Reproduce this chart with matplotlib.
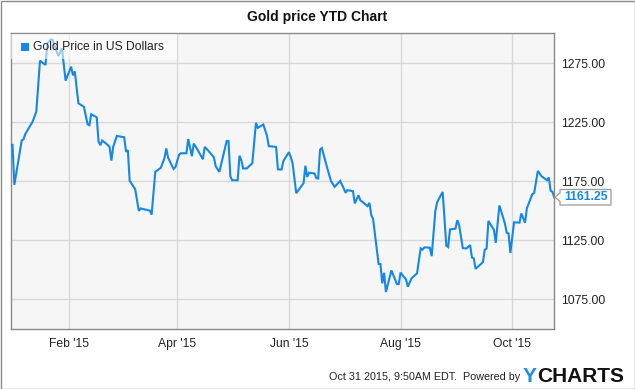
import matplotlib
matplotlib.use("Agg")
import matplotlib.pyplot as plt
from matplotlib.patches import Rectangle, Polygon
import pandas as pd

plt.rcParams['font.family'] = ['Liberation Sans', 'DejaVu Sans']

title = "Gold price YTD Chart"
series_name = "Gold Price in US Dollars"
footer = "Oct 31 2015, 9:50AM EDT.  Powered by"
last_label = "1161.25"

# days after 2015-01-01
day_offsets = [-1, 0, 1, 5, 6, 7, 11, 13, 15, 18, 19, 21, 22, 25, 27, 29, 32, 33, 34, 36,
               39, 41, 42, 43, 46, 47, 48, 49, 52, 53, 54, 55, 57, 61, 62, 63, 64, 67, 69, 70,
               75, 76, 78, 81, 83, 84, 85, 88, 89, 91, 92, 95, 96, 98, 99, 101, 104, 105, 107, 110,
               111, 113, 117, 118, 119, 120, 123, 124, 125, 126, 128, 131, 133, 134, 137, 139, 140, 144, 145, 147,
               148, 151, 152, 153, 155, 159, 160, 161, 162, 165, 166, 167, 168, 169, 172, 174, 176, 179, 181, 182,
               183, 186, 187, 189, 190, 194, 195, 196, 197, 200, 201, 202, 203, 204, 207, 210, 211, 212, 215, 216,
               218, 221, 223, 224, 225, 228, 229, 231, 232, 235, 237, 238, 239, 242, 243, 244, 246, 248, 250, 251,
               252, 253, 257, 258, 259, 260, 263, 264, 266, 269, 270, 271, 272, 274, 277, 278, 280, 281, 284, 285,
               287, 289, 292, 293, 294, 295, 296]
prices = [1205.8, 1205.8, 1171.9, 1209.5, 1210.6, 1215.1, 1225.6, 1234.1, 1277.3, 1273.6,
          1292.0, 1295.3, 1294.7, 1281.2, 1287.7, 1260.3, 1272.2, 1264.8, 1268.2, 1241.1,
          1238.1, 1223.3, 1222.5, 1231.8, 1229.2, 1208.5, 1205.5, 1209.5, 1205.8, 1204.1,
          1192.4, 1204.2, 1213.4, 1212.3, 1200.0, 1201.3, 1175.4, 1168.2, 1149.8, 1151.9,
          1150.0, 1146.6, 1183.0, 1186.3, 1194.5, 1202.8, 1194.9, 1185.4, 1186.9, 1197.6,
          1198.7, 1198.7, 1210.8, 1196.2, 1206.9, 1201.9, 1193.6, 1204.1, 1200.8, 1195.3,
          1187.7, 1182.9, 1209.1, 1209.1, 1179.2, 1175.8, 1175.8, 1196.6, 1192.8, 1185.8,
          1185.8, 1190.3, 1224.6, 1220.3, 1223.1, 1213.7, 1204.7, 1204.1, 1185.0, 1184.9,
          1192.2, 1199.6, 1195.6, 1190.3, 1164.8, 1173.3, 1188.1, 1178.6, 1182.2, 1181.5,
          1177.5, 1177.3, 1201.7, 1203.1, 1185.8, 1175.0, 1170.2, 1175.2, 1168.8, 1165.1,
          1167.4, 1166.5, 1156.1, 1163.1, 1158.9, 1153.8, 1156.6, 1146.2, 1142.8, 1104.7,
          1104.7, 1088.3, 1097.3, 1080.9, 1099.3, 1087.7, 1087.7, 1097.4, 1091.5, 1085.4,
          1092.5, 1096.8, 1118.0, 1116.9, 1118.8, 1118.6, 1111.4, 1149.6, 1157.2, 1165.9,
          1120.3, 1119.1, 1134.1, 1134.7, 1141.9, 1137.7, 1118.2, 1117.9, 1120.8, 1110.3,
          1109.5, 1100.6, 1106.3, 1116.8, 1117.8, 1141.3, 1133.7, 1122.7, 1154.4, 1139.1,
          1131.2, 1130.7, 1114.0, 1140.1, 1139.8, 1147.6, 1139.7, 1151.9, 1164.0, 1165.0,
          1183.7, 1179.2, 1175.8, 1178.1, 1166.8, 1166.0, 1161.25]

x_tick_dates = ["2015-02-01", "2015-04-01", "2015-06-01", "2015-08-01", "2015-10-01"]
x_tick_labels = ["Feb '15", "Apr '15", "Jun '15", "Aug '15", "Oct '15"]
y_ticks = [1075, 1125, 1175, 1225, 1275]
y_tick_labels = ["1075.00", "1125.00", "1175.00", "1225.00", "1275.00"]

start = pd.Timestamp("2015-01-01")
dates = start + pd.to_timedelta(day_offsets, unit="D")

W, H = 635, 389
fig = plt.figure(figsize=(W / 100, H / 100), dpi=100)
fig.patch.set_facecolor("white")

def fx(px):
    return px / W

def fy(py):
    return 1 - py / H

ax_l, ax_r, ax_t, ax_b = 10.7, 554.3, 33.3, 329.3
ax = fig.add_axes([fx(ax_l), fy(ax_b), fx(ax_r - ax_l), (ax_b - ax_t) / H])
ax.set_facecolor("#f6f6f6")

line_color = "#1587e6"
ax.plot(dates, prices, color=line_color, lw=1.5, zorder=3, solid_joinstyle="miter")

ax.set_xlim(start + pd.Timedelta(days=-1), start + pd.Timedelta(days=296))
ax.set_ylim(1049.3, 1300.5)

ax.set_xticks(pd.to_datetime(x_tick_dates))
ax.set_xticklabels(x_tick_labels)
ax.set_yticks(y_ticks)
ax.set_yticklabels(y_tick_labels)
ax.yaxis.tick_right()
ax.tick_params(axis="both", length=0, labelsize=8.7, colors="#222222")
ax.tick_params(axis="x", pad=6)
ax.tick_params(axis="y", pad=5)
ax.grid(True, color="#d8d8d8", lw=1.0, zorder=0)
ax.set_axisbelow(True)
for s in ax.spines.values():
    s.set_color("#8a8a8a")
    s.set_linewidth(1.0)

# legend box
leg_box = Rectangle((fx(ax_l + 0.5), fy(59)), fx(176 - ax_l), (59 - 33.8) / H,
                    transform=fig.transFigure, facecolor="white", alpha=0.55,
                    edgecolor="none", zorder=5)
fig.patches.append(leg_box)
fig.patches.append(Rectangle((fx(21), fy(51)), fx(8), 8 / H, transform=fig.transFigure,
                             facecolor=line_color, edgecolor="none", zorder=6))
fig.text(fx(33), fy(47), series_name, fontsize=8.7, color="#222222", va="center",
         ha="left", zorder=7)

# title
fig.text(0.5, fy(17.5), title, fontsize=10, fontweight="bold", ha="center",
         va="center", color="#111111")

# last value label
bx0, bx1, by0, by1 = 560, 611, 189.5, 205
box = Polygon([(fx(bx0), fy(by0)), (fx(bx1), fy(by0)), (fx(bx1), fy(by1)),
               (fx(bx0), fy(by1)), (fx(bx0), fy(201.5)), (fx(555), fy(197.2)),
               (fx(bx0), fy(193))], closed=True, transform=fig.transFigure,
              facecolor="white", edgecolor="#9a9a9a", lw=0.9, zorder=8)
fig.patches.append(box)
fig.text(fx((bx0 + bx1) / 2 + 0.5), fy(197.5), last_label, fontsize=8.7,
         fontweight="bold", color=line_color, ha="center", va="center", zorder=9)

# footer
fig.text(fx(520), fy(377.5), footer, fontsize=7.75, color="#222222", ha="right",
         va="center")
fig.text(fx(522.5), fy(377), "Y", fontsize=15, fontweight="bold", color="#1d8fe1",
         ha="left", va="center")
fig.text(fx(537.5), fy(377), "CHARTS", fontsize=15, fontweight="bold",
         color="#111111", ha="left", va="center")

# outer border
fig.patches.append(Rectangle((0.5 / W, 0.5 / H), 1 - 1.0 / W, 1 - 1.0 / H,
                             transform=fig.transFigure, facecolor="none",
                             edgecolor="#8a8a8a", lw=1.0, zorder=10))

fig.savefig("out.png", dpi=100, facecolor="white")
